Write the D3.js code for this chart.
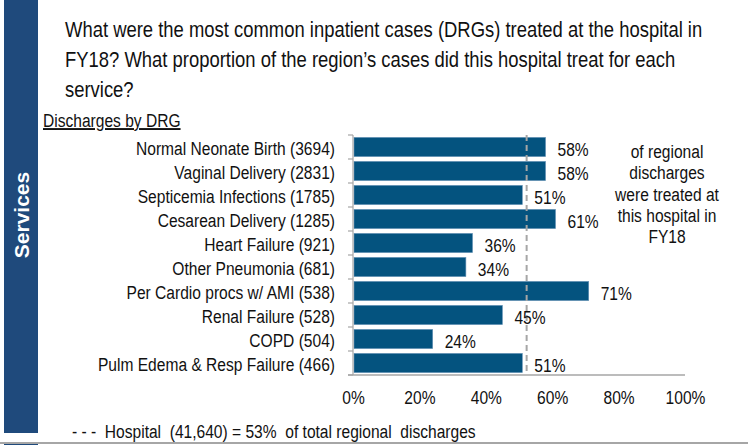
<!DOCTYPE html>
<html>
<head>
<meta charset="utf-8">
<script src="https://cdn.jsdelivr.net/npm/d3@7"></script>
<style>
  body { margin: 0; background: #fff; }
  svg { display: block; font-family: "Liberation Sans", Arial, sans-serif; }
</style>
</head>
<body>
<div id="chart"></div>
<script>
// Chart data
const categories = [
    "Normal Neonate Birth (3694)",
    "Vaginal Delivery (2831)",
    "Septicemia Infections (1785)",
    "Cesarean Delivery (1285)",
    "Heart Failure (921)",
    "Other Pneumonia (681)",
    "Per Cardio procs w/ AMI (538)",
    "Renal Failure (528)",
    "COPD (504)",
    "Pulm Edema & Resp Failure (466)"
];
const shares = [58, 58, 51, 61, 36, 34, 71, 45, 24, 51];
const xTicks = [0, 20, 40, 60, 80, 100];
const hospitalLine = 52.3;
const titleLines = [
    "What were the most common inpatient cases (DRGs) treated at the hospital in",
    "FY18? What proportion of the region\u2019s cases did this hospital treat for each",
    "service?"
];
const noteLines = ["of regional", "discharges", "were treated at", "this hospital in", "FY18"];
const footerText = "Hospital  (41,640) = 53%  of total regional  discharges";

const W = 748, H = 445;
const plot = { left: 353, right: 685, top: 135, bottom: 375 };
const NARROW = 0.82;

// squeeze text horizontally (about its anchor) to mimic a narrow typeface
function narrow(sel, k = NARROW) {
    sel.each(function () {
        const ax = +this.getAttribute("x") || 0;
        this.setAttribute("transform", `translate(${ax},0) scale(${k},1) translate(${-ax},0)`);
    });
}

const svg = d3.select("#chart")
    .append("svg")
    .attr("width", W)
    .attr("height", H);

// Side band
svg.append("rect")
    .attr("x", 4).attr("y", 0)
    .attr("width", 34).attr("height", 433)
    .attr("fill", "#1f4a7c");
svg.append("text")
    .attr("transform", "translate(28.5,215) rotate(-90)")
    .attr("text-anchor", "middle")
    .attr("fill", "#fff")
    .style("font-weight", "bold")
    .style("font-size", "21px")
    .text("Services");

// bottom rule
svg.append("rect")
    .attr("x", 0).attr("y", 442)
    .attr("width", W).attr("height", 2)
    .attr("fill", "#a6a6a6");
svg.append("rect")
    .attr("x", 4).attr("y", 444)
    .attr("width", 34).attr("height", 1)
    .attr("fill", "#1f4a7c");

// Title
svg.append("g").selectAll("text")
    .data(titleLines)
    .enter().append("text")
    .attr("x", 65)
    .attr("y", (d, i) => 37.5 + i * 29.8)
    .attr("fill", "#111")
    .style("font-size", "21.5px")
    .text(d => d)
    .call(narrow, 0.858);

// Subtitle
svg.append("text")
    .attr("x", 43).attr("y", 127)
    .attr("fill", "#111")
    .style("font-size", "19px")
    .style("text-decoration", "underline")
    .text("Discharges by DRG")
    .call(narrow);

// Scales
const x = d3.scaleLinear()
    .domain([0, 100])
    .range([plot.left, plot.right]);
const y = d3.scaleBand()
    .domain(categories)
    .range([plot.top, plot.bottom])
    .paddingInner(0.2)
    .paddingOuter(0.1);

// Bars
svg.append("g").selectAll("rect")
    .data(categories)
    .enter().append("rect")
    .attr("x", x(0) + 1)
    .attr("y", d => y(d))
    .attr("width", (d, i) => x(shares[i]) - x(0) - 1)
    .attr("height", y.bandwidth())
    .attr("fill", "#04537f")
    .attr("stroke", "#6592b6")
    .attr("stroke-width", 0.6);

// Y axis with category labels
const yAxis = svg.append("g")
    .attr("transform", `translate(${plot.left},0)`)
    .call(d3.axisLeft(y).tickSize(0).tickPadding(18));
yAxis.select(".domain").remove();
yAxis.selectAll("text")
    .attr("fill", "#111")
    .attr("dy", "0.42em")
    .style("font-size", "19px")
    .style("font-family", "'Liberation Sans', Arial, sans-serif")
    .call(narrow);

// band boundary ticks
const bounds = categories.map(d => y(d) - y.step() * y.paddingInner() / 2)
    .concat([plot.bottom]);
svg.append("g").selectAll("line")
    .data(bounds)
    .enter().append("line")
    .attr("x1", plot.left - 5).attr("x2", plot.left)
    .attr("y1", d => d).attr("y2", d => d)
    .attr("stroke", "#a6a6a6").attr("stroke-width", 1.2);
svg.append("line")
    .attr("x1", plot.left).attr("x2", plot.left)
    .attr("y1", plot.top).attr("y2", plot.bottom)
    .attr("stroke", "#a6a6a6").attr("stroke-width", 1.2);

// X axis
const xAxis = svg.append("g")
    .attr("transform", `translate(0,${plot.bottom})`)
    .call(d3.axisBottom(x).tickValues(xTicks).tickSize(0).tickPadding(18).tickFormat(d => d + "%"));
xAxis.select(".domain")
    .attr("d", `M${plot.left - 5},0H${plot.right}`)
    .attr("stroke", "#a6a6a6").attr("stroke-width", 1.5);
xAxis.selectAll("text")
    .attr("fill", "#111")
    .attr("dy", "0.6em")
    .style("font-size", "19px")
    .style("font-family", "'Liberation Sans', Arial, sans-serif")
    .call(narrow);

// Hospital reference line
svg.append("line")
    .attr("x1", x(hospitalLine)).attr("x2", x(hospitalLine))
    .attr("y1", plot.top).attr("y2", plot.bottom)
    .attr("stroke", "#a6a6a6")
    .attr("stroke-width", 2)
    .attr("stroke-dasharray", "6 4");

// Value labels
svg.append("g").selectAll("text")
    .data(categories)
    .enter().append("text")
    .attr("x", (d, i) => x(shares[i]) + 12)
    .attr("y", d => y(d) + y.bandwidth() / 2 + 9)
    .attr("fill", "#111")
    .style("font-size", "19px")
    .text((d, i) => shares[i] + "%")
    .call(narrow);

// Note on right
svg.append("g").selectAll("text")
    .data(noteLines)
    .enter().append("text")
    .attr("x", 667)
    .attr("y", (d, i) => 158 + i * 21.3)
    .attr("text-anchor", "middle")
    .attr("fill", "#111")
    .style("font-size", "19px")
    .text(d => d)
    .call(narrow);

// Footer
svg.append("text")
    .attr("x", 72).attr("y", 438)
    .attr("fill", "#111")
    .style("font-size", "19px")
    .attr("xml:space", "preserve")
    .text("- - -  " + footerText)
    .call(narrow);
</script>
</body>
</html>
